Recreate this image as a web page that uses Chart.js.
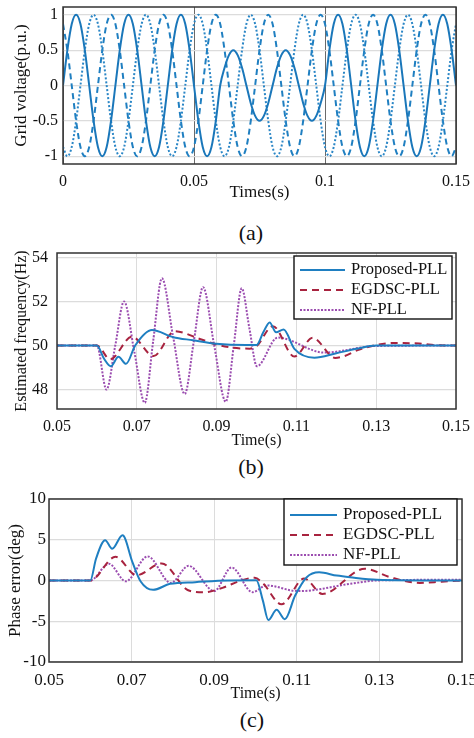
<!DOCTYPE html>
<html>
<head>
<meta charset="utf-8">
<script src="https://cdn.jsdelivr.net/npm/chart.js@4.4.1/dist/chart.umd.min.js"></script>
<style>
  html, body { margin: 0; padding: 0; background: #fff; }
  #wrap { position: relative; width: 474px; height: 738px; overflow: hidden; }
  #wrap canvas { position: absolute; left: 0; }
  .sub { position: absolute; width: 60px; text-align: center; font: 22px 'Liberation Serif', 'Times New Roman', serif; line-height: 24px; color: #111; }
</style>
</head>
<body>
<div id="wrap">
  <canvas id="chartA" width="474" height="205" style="top:0"></canvas>
  <canvas id="chartB" width="474" height="205" style="top:245px"></canvas>
  <canvas id="chartC" width="474" height="213" style="top:490px"></canvas>
  <div class="sub" style="left:221px;top:221px">(a)</div>
  <div class="sub" style="left:221px;top:455px">(b)</div>
  <div class="sub" style="left:222px;top:708px">(c)</div>
</div>
<script>
const SERIF = "'Liberation Serif', 'Times New Roman', serif";

// (a) three-phase grid voltage, one sample every 30 degrees
const timeA_ms = [
  0, 1.667, 3.333, 5, 6.667, 8.333, 10, 11.667, 13.333, 15, 16.667, 18.333,
  20, 21.667, 23.333, 25, 26.667, 28.333, 30, 31.667, 33.333, 35, 36.667, 38.333,
  40, 41.667, 43.333, 45, 46.667, 48.333, 50, 51.667, 53.333, 55, 56.667, 58.333,
  60, 61.667, 63.333, 65, 66.667, 68.333, 70, 71.667, 73.333, 75, 76.667, 78.333,
  80, 81.667, 83.333, 85, 86.667, 88.333, 90, 91.667, 93.333, 95, 96.667, 98.333,
  100, 101.667, 103.333, 105, 106.667, 108.333, 110, 111.667, 113.333, 115, 116.667, 118.333,
  120, 121.667, 123.333, 125, 126.667, 128.333, 130, 131.667, 133.333, 135, 136.667, 138.333,
  140, 141.667, 143.333, 145, 146.667, 148.333, 150
];
const voltPhaseA = [
  0, 0.5, 0.87, 1, 0.87, 0.5, 0, -0.5, -0.87, -1, -0.87, -0.5,
  0, 0.5, 0.87, 1, 0.87, 0.5, 0, -0.5, -0.87, -1, -0.87, -0.5,
  0, 0.5, 0.87, 1, 0.87, 0.5, 0, -0.5, -0.87, -1, -0.87, -0.5,
  0, 0.25, 0.43, 0.5, 0.43, 0.25, 0, -0.25, -0.43, -0.5, -0.43, -0.25,
  0, 0.25, 0.43, 0.5, 0.43, 0.25, 0, -0.25, -0.43, -0.5, -0.43, -0.25,
  0, 0.5, 0.87, 1, 0.87, 0.5, 0, -0.5, -0.87, -1, -0.87, -0.5,
  0, 0.5, 0.87, 1, 0.87, 0.5, 0, -0.5, -0.87, -1, -0.87, -0.5,
  0, 0.5, 0.87, 1, 0.87, 0.5, 0
];
const voltPhaseB = [
  -0.87, -1, -0.87, -0.5, 0, 0.5, 0.87, 1, 0.87, 0.5, 0, -0.5,
  -0.87, -1, -0.87, -0.5, 0, 0.5, 0.87, 1, 0.87, 0.5, 0, -0.5,
  -0.87, -1, -0.87, -0.5, 0, 0.5, 0.87, 1, 0.87, 0.5, 0, -0.5,
  -0.87, -1, -0.87, -0.5, 0, 0.5, 0.87, 1, 0.87, 0.5, 0, -0.5,
  -0.87, -1, -0.87, -0.5, 0, 0.5, 0.87, 1, 0.87, 0.5, 0, -0.5,
  -0.87, -1, -0.87, -0.5, 0, 0.5, 0.87, 1, 0.87, 0.5, 0, -0.5,
  -0.87, -1, -0.87, -0.5, 0, 0.5, 0.87, 1, 0.87, 0.5, 0, -0.5,
  -0.87, -1, -0.87, -0.5, 0, 0.5, 0.87
];
const voltPhaseC = [
  0.87, 0.5, 0, -0.5, -0.87, -1, -0.87, -0.5, 0, 0.5, 0.87, 1,
  0.87, 0.5, 0, -0.5, -0.87, -1, -0.87, -0.5, 0, 0.5, 0.87, 1,
  0.87, 0.5, 0, -0.5, -0.87, -1, -0.87, -0.5, 0, 0.5, 0.87, 1,
  0.87, 0.5, 0, -0.5, -0.87, -1, -0.87, -0.5, 0, 0.5, 0.87, 1,
  0.87, 0.5, 0, -0.5, -0.87, -1, -0.87, -0.5, 0, 0.5, 0.87, 1,
  0.87, 0.5, 0, -0.5, -0.87, -1, -0.87, -0.5, 0, 0.5, 0.87, 1,
  0.87, 0.5, 0, -0.5, -0.87, -1, -0.87, -0.5, 0, 0.5, 0.87, 1,
  0.87, 0.5, 0, -0.5, -0.87, -1, -0.87
];
const ticksXA = [0, 0.05, 0.1, 0.15];
const ticksYA = [-1, -0.5, 0, 0.5, 1];

// (b) estimated frequency (Hz)
const freqPropT = [0.05, 0.06, 0.0618, 0.0635, 0.0654, 0.0673, 0.0696, 0.0738, 0.0791, 0.0841, 0.0899, 0.0974, 0.1,
  0.1017, 0.1033, 0.1049, 0.1068, 0.1095, 0.1145, 0.12, 0.125, 0.13, 0.15];
const freqPropV = [50, 50, 49.4, 49.06, 49.49, 49.17, 50.0, 50.7, 50.38, 50.24, 50.08, 50.02, 50.02,
  50.6, 51.05, 50.6, 50.73, 49.85, 49.45, 49.65, 49.85, 50.0, 50];
const freqEgdT = [0.05, 0.06, 0.0633, 0.0688, 0.0742, 0.0795, 0.0858, 0.0899, 0.0941, 0.0983, 0.1,
  0.1041, 0.1095, 0.1141, 0.1197, 0.122, 0.1258, 0.1345, 0.1408, 0.1458, 0.15];
const freqEgdV = [50, 50, 49.38, 50.4, 49.52, 50.65, 50.3, 50.05, 49.9, 49.86, 49.97,
  50.88, 49.5, 50.35, 49.44, 49.52, 49.82, 50.12, 50.09, 50.01, 50];
const freqNfT = [0.05, 0.06, 0.0624, 0.0646, 0.0668, 0.0694, 0.072, 0.0741, 0.0763, 0.0791, 0.082, 0.0843,
  0.0866, 0.0894, 0.0923, 0.0943, 0.0963, 0.0982, 0.1001, 0.1053, 0.117, 0.13, 0.15];
const freqNfV = [50, 50, 48.0, 50.0, 52.0, 49.7, 47.4, 50.2, 53.05, 50.4, 47.8, 50.2,
  52.65, 50.0, 47.45, 50.0, 52.6, 50.8, 49.06, 50.36, 49.68, 49.98, 50];
const ticksXB = [0.05, 0.07, 0.09, 0.11, 0.13, 0.15];
const ticksYB = [48, 50, 52, 54];

// (c) phase error (deg)
const errPropT = [0.05, 0.06, 0.0614, 0.0636, 0.0653, 0.0678, 0.0702, 0.0722, 0.0752, 0.0793, 0.0854, 0.0934,
  0.1002, 0.1018, 0.1031, 0.1051, 0.1071, 0.1096, 0.1124, 0.1154, 0.1197, 0.1229, 0.1294, 0.15];
const errPropV = [0, 0, 2.7, 4.94, 3.9, 5.55, 2.26, -0.12, -1.15, -0.41, -0.2, 0,
  0.02, -2.5, -4.85, -3.6, -4.75, -1.85, 0.4, 1.0, 0.6, 0.4, 0.1, 0];
const errEgdT = [0.05, 0.06, 0.0661, 0.0712, 0.0773, 0.0837, 0.0875, 0.092, 0.0965, 0.0998, 0.1019,
  0.1063, 0.1118, 0.1162, 0.1265, 0.1326, 0.1398, 0.145, 0.15];
const errEgdV = [0, 0, 2.9, 0.65, 2.1, -1.2, -1.45, -0.9, 0, 0.35, -0.4,
  -2.92, 0.25, -1.65, 1.44, 0.4, -0.3, -0.15, 0];
const errNfT = [0.05, 0.06, 0.0645, 0.0686, 0.0739, 0.0795, 0.0838, 0.09, 0.0942, 0.0993, 0.1027,
  0.1045, 0.1085, 0.1108, 0.1229, 0.1294, 0.15];
const errNfV = [0, 0, 2.05, -0.1, 2.95, -0.3, 1.8, -1.3, 1.6, -1.44, -0.6,
  -0.7, -1.2, -1.3, -0.41, 0, 0.1];
const ticksYC = [-10, -5, 0, 5, 10];

const legendLabels = ['Proposed-PLL', 'EGDSC-PLL', 'NF-PLL'];

function pts(ts, vs, k) {
  return ts.map((t, i) => ({ x: t * (k || 1), y: vs[i] }));
}

// frame round the plot area + boxed legend inside it
const frameBox = {
  id: 'frameBox',
  afterDatasetsDraw(chart, args, opts) {
    const { ctx, chartArea: a } = chart;
    ctx.save();
    ctx.strokeStyle = '#333';
    ctx.lineWidth = 1.5;
    ctx.strokeRect(a.left, a.top, a.right - a.left, a.bottom - a.top);
    const L = opts.legend;
    if (L) {
      ctx.fillStyle = '#fff';
      ctx.fillRect(L.x, L.y, L.w, L.h);
      ctx.strokeStyle = '#111';
      ctx.lineWidth = 1.4;
      ctx.strokeRect(L.x, L.y, L.w, L.h);
      ctx.font = L.size + 'px ' + SERIF;
      ctx.textBaseline = 'middle';
      chart.data.datasets.forEach((ds, i) => {
        const y = L.y + L.first + i * L.row;
        ctx.strokeStyle = ds.borderColor;
        ctx.lineWidth = ds.borderWidth;
        ctx.setLineDash(ds.borderDash || []);
        ctx.beginPath();
        ctx.moveTo(L.sx0, y);
        ctx.lineTo(L.sx1, y);
        ctx.stroke();
        ctx.setLineDash([]);
        ctx.fillStyle = '#111';
        ctx.fillText(ds.label, L.tx, y);
      });
    }
    ctx.restore();
  }
};

function axes(o) {
  return {
    x: {
      type: 'linear', min: o.xMin, max: o.xMax,
      afterBuildTicks: s => { s.ticks = o.xTicks.map(v => ({ value: v })); },
      afterFit: s => { s.height = o.xH; s.paddingLeft = 0; s.paddingRight = 0; },
      ticks: { callback: v => String(v), color: '#111', padding: 8, maxRotation: 0, autoSkip: false,
               font: { family: SERIF, size: o.tickSize } },
      grid: { color: o.xGrid, lineWidth: 1, drawTicks: false },
      border: { display: false },
      title: { display: true, text: o.xTitle, color: '#111', font: { family: SERIF, size: o.titleSize },
               padding: { top: 0, bottom: o.xTitlePad } }
    },
    y: {
      type: 'linear', min: o.yMin, max: o.yMax,
      afterBuildTicks: s => { s.ticks = o.yTicks.map(v => ({ value: v })); },
      afterFit: s => { s.width = o.yW; s.paddingTop = 0; s.paddingBottom = 0; },
      ticks: { callback: v => String(v), color: '#111', padding: o.yTickPad,
               font: { family: SERIF, size: o.tickSize } },
      grid: { color: '#dcdcdc', lineWidth: 1.2, drawTicks: false },
      border: { display: false },
      title: { display: true, text: o.yTitle, color: '#111', font: { family: SERIF, size: o.yTitleSize || o.titleSize },
               padding: { top: o.yTitlePad, bottom: 0 } }
    }
  };
}

function line(label, data, color, dash, width) {
  return {
    label: label, data: data, borderColor: color, borderWidth: width || 2, borderDash: dash,
    pointRadius: 0, fill: false, cubicInterpolationMode: 'monotone'
  };
}

function baseOptions(pad, scales, legend) {
  return {
    responsive: false, animation: false, devicePixelRatio: 1,
    layout: { padding: pad },
    plugins: { legend: { display: false }, tooltip: { enabled: false }, frameBox: { legend: legend } },
    scales: scales
  };
}

const BLUE = '#1f7fc1', RED = '#a8233f', PURPLE = '#9b4db0';

// (a)
new Chart(document.getElementById('chartA'), {
  type: 'line',
  data: {
    datasets: [
      line('Phase a', pts(timeA_ms, voltPhaseA, 0.001), '#1a77ba', [], 2),
      line('Phase b', pts(timeA_ms, voltPhaseB, 0.001), '#2a86c6', [2, 2], 2),
      line('Phase c', pts(timeA_ms, voltPhaseC, 0.001), '#1f7fc1', [6, 4], 2)
    ]
  },
  options: baseOptions({ top: 7, right: 18, left: 0, bottom: 0 }, axes({
    xMin: 0, xMax: 0.15, xTicks: ticksXA, xH: 41, xGrid: '#6a6a6a', xTitle: 'Times(s)', xTitlePad: 2,
    yMin: -1.11, yMax: 1.11, yTicks: ticksYA, yW: 63, yTickPad: 5, yTitle: 'Grid voltage(p.u.)', yTitlePad: 11,
    tickSize: 16, titleSize: 17
  }), null),
  plugins: [frameBox]
});

// (b)
new Chart(document.getElementById('chartB'), {
  type: 'line',
  data: {
    datasets: [
      line(legendLabels[0], pts(freqPropT, freqPropV), BLUE, [], 2),
      line(legendLabels[1], pts(freqEgdT, freqEgdV), RED, [7, 5], 2),
      line(legendLabels[2], pts(freqNfT, freqNfV), PURPLE, [2, 1.5], 2)
    ]
  },
  options: baseOptions({ top: 8, right: 18, left: 0, bottom: 0 }, axes({
    xMin: 0.05, xMax: 0.15, xTicks: ticksXB, xH: 41, xGrid: '#dcdcdc', xTitle: 'Time(s)', xTitlePad: 0,
    yMin: 47.12, yMax: 54.2, yTicks: ticksYB, yW: 57, yTickPad: 9, yTitle: 'Estimated frequency(Hz)', yTitlePad: 12,
    tickSize: 16, titleSize: 16
  }), { x: 294, y: 11, w: 158, h: 63, first: 14, row: 20, sx0: 300, sx1: 345, tx: 351, size: 16.5 }),
  plugins: [frameBox]
});

// (c)
new Chart(document.getElementById('chartC'), {
  type: 'line',
  data: {
    datasets: [
      line(legendLabels[0], pts(errPropT, errPropV), BLUE, [], 2),
      line(legendLabels[1], pts(errEgdT, errEgdV), RED, [7, 5], 2),
      line(legendLabels[2], pts(errNfT, errNfV), PURPLE, [2, 1.5], 2)
    ]
  },
  options: baseOptions({ top: 9, right: 12, left: 0, bottom: 0 }, axes({
    xMin: 0.05, xMax: 0.15, xTicks: ticksXB, xH: 41, xGrid: '#dcdcdc', xTitle: 'Time(s)', xTitlePad: 0,
    yMin: -10, yMax: 10, yTicks: ticksYC, yW: 49, yTickPad: 3, yTitle: 'Phase error(deg)', yTitlePad: 5,
    tickSize: 17, titleSize: 16, yTitleSize: 17
  }), { x: 284, y: 9, w: 173, h: 66, first: 16, row: 20, sx0: 290, sx1: 337, tx: 343, size: 17 }),
  plugins: [frameBox]
});
</script>
</body>
</html>
